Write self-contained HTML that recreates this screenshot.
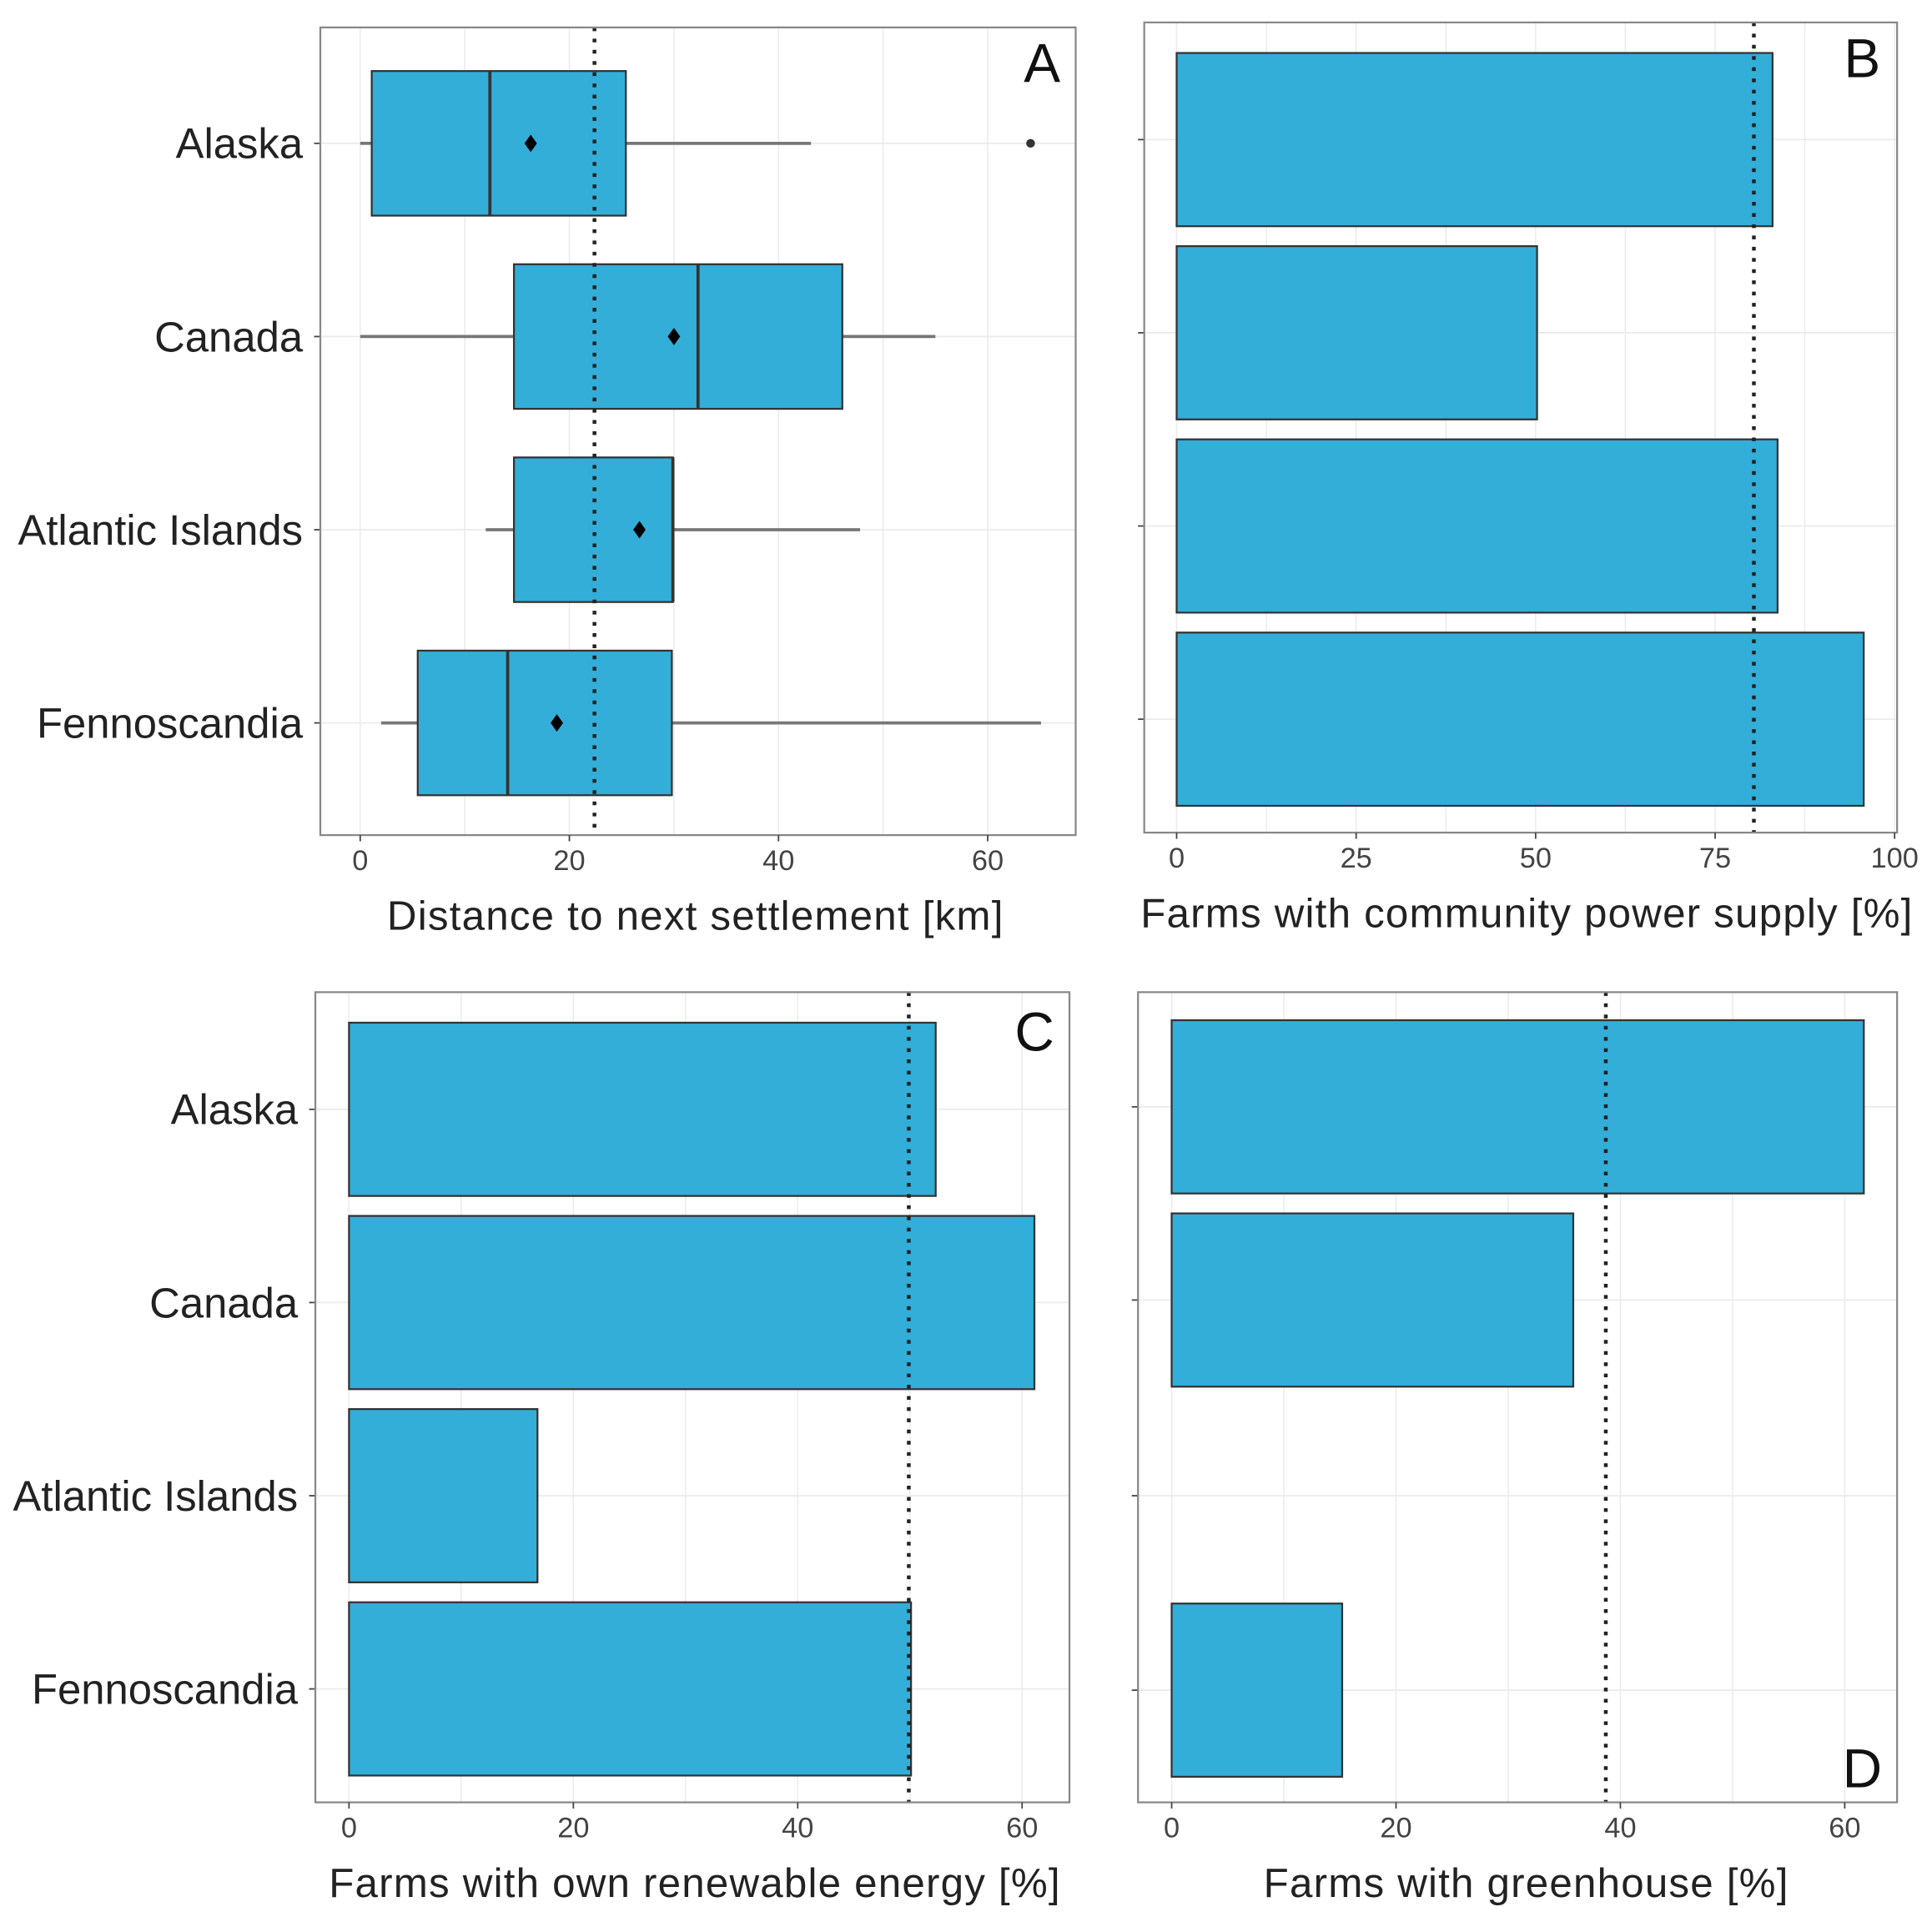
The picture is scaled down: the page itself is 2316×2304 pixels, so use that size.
<!DOCTYPE html>
<html><head><meta charset="utf-8"><style>
html,body{margin:0;padding:0;background:#fff;}
svg{display:block;font-family:"Liberation Sans",sans-serif;}
</style></head><body>
<svg id="fig" width="2316" height="2304" viewBox="0 0 1550 1542" preserveAspectRatio="none" xmlns="http://www.w3.org/2000/svg"></svg>
<script>
const categories = ["Alaska","Canada","Atlantic Islands","Fennoscandia"];
// Panel A box stats
const boxLow = [0, 0, 12, 2];
const boxQ1 = [1.1, 14.7, 14.7, 5.5];
const boxMedian = [12.4, 32.3, 29.9, 14.1];
const boxQ3 = [25.4, 46.1, 29.9, 29.8];
const boxHigh = [43.1, 55, 47.8, 65.1];
const boxMean = [16.3, 30, 26.7, 18.8];
const boxOutliers = [[64.1], [], [], []];
const refA = 22.4;
const ticksA = [0, 20, 40, 60];
// Panel B
const valuesB = [83, 50.2, 83.7, 95.7];
const refB = 80.4;
const ticksB = [0, 25, 50, 75, 100];
// Panel C
const valuesC = [52.3, 61.1, 16.8, 50.1];
const refC = 49.9;
const ticksC = [0, 20, 40, 60];
// Panel D
const valuesD = [61.7, 35.8, 0, 15.2];
const refD = 38.7;
const ticksD = [0, 20, 40, 60];

const NS = "http://www.w3.org/2000/svg";
const svg = document.getElementById("fig");
function mk(tag, attrs, parent, text) {
  const e = document.createElementNS(NS, tag);
  for (const k in attrs) e.setAttribute(k, attrs[k]);
  if (text !== undefined) e.textContent = text;
  (parent || svg).appendChild(e);
  return e;
}
const FILL = "#33AED8", STROKE = "#333";

function panel(cfg) {
  const g = mk("g", {});
  
  
  const sx = v => cfg.x0 + (v - cfg.dmin) * cfg.k;
  const cy = i => cfg.catY[i];
  const step = cfg.ticks[1] - cfg.ticks[0];
  for (let v = cfg.ticks[0] - step / 2; v <= cfg.ticks[cfg.ticks.length - 1] + step; v += step / 2) {
    const x = sx(v);
    if (x <= cfg.L || x >= cfg.R) continue;
    const gl = mk("line", {x1: x, x2: x, y1: cfg.T, y2: cfg.B, stroke: "#ebebeb", "stroke-width": 1}, g);
    
    
  }
  categories.forEach((c, i) => {
    const gl = mk("line", {x1: cfg.L, x2: cfg.R, y1: cy(i), y2: cy(i), stroke: "#ebebeb", "stroke-width": 1.2}, g);
    
    
    if (cfg.showCats) {
      const t = mk("text", {x: cfg.L - 14, y: cy(i) + 12, "text-anchor": "end", "font-size": 34, fill: "#222"}, g, c);
      
      
    }
    const tk = mk("line", {x1: cfg.L - 5, x2: cfg.L, y1: cy(i), y2: cy(i), stroke: "#444", "stroke-width": 1.2}, g);
    
    
  });
  cfg.draw(g, sx, cy);
  const rl = mk("line", {x1: sx(cfg.ref), x2: sx(cfg.ref), y1: cfg.T, y2: cfg.B, stroke: "#222", "stroke-width": 3, "stroke-dasharray": "3 6"}, g);
  
  
  const fr = mk("rect", {x: cfg.L, y: cfg.T, width: cfg.R - cfg.L, height: cfg.B - cfg.T, fill: "none", stroke: "#888", "stroke-width": 1.5}, g);
  
  
  cfg.ticks.forEach(v => {
    const tk = mk("line", {x1: sx(v), x2: sx(v), y1: cfg.B, y2: cfg.B + 5, stroke: "#444", "stroke-width": 1.2}, g);
    
    
    const t = mk("text", {x: sx(v), y: cfg.B + 28, "text-anchor": "middle", "font-size": 23, fill: "#444"}, g, String(v));
    
    
  });
  const at = mk("text", {x: (cfg.L + cfg.R) / 2 + cfg.titleDx, y: cfg.B + 76, "text-anchor": "middle", "font-size": 33, "letter-spacing": 0.8, fill: "#222"}, g, cfg.title);
  
  
  const lt = mk("text", {x: cfg.letterX, y: cfg.letterY, "text-anchor": "middle", "font-size": 44, fill: "#111"}, g, cfg.letter);
  
  
}

function bars(values, half) {
  return (g, sx, cy) => values.forEach((v, i) => {
    if (v <= 0) return;
    const r = mk("rect", {x: sx(0), y: cy(i) - half, width: sx(v) - sx(0), height: half * 2, fill: FILL, stroke: STROKE, "stroke-width": 1.5}, g);
    
    
  });
}

panel({name: "panel-a", L: 257, R: 863, T: 22, B: 670, x0: 289, dmin: 0, k: 8.39,
  catY: [115, 270, 425, 580], showCats: true, ticks: ticksA, ref: refA,
  title: "Distance to next settlement [km]", titleDx: -2, letter: "A", letterX: 836, letterY: 66,
  draw: (g, sx, cy) => categories.forEach((c, i) => {
    const y = cy(i), h = 58;
    const w1 = mk("line", {x1: sx(boxLow[i]), x2: sx(boxQ1[i]), y1: y, y2: y, stroke: "#777", "stroke-width": 2.5}, g);
    
    
    const w2 = mk("line", {x1: sx(boxQ3[i]), x2: sx(boxHigh[i]), y1: y, y2: y, stroke: "#777", "stroke-width": 2.5}, g);
    
    
    const b = mk("rect", {x: sx(boxQ1[i]), y: y - h, width: sx(boxQ3[i]) - sx(boxQ1[i]), height: 2 * h, fill: FILL, stroke: STROKE, "stroke-width": 1.5}, g);
    
    
    const m = mk("line", {x1: sx(boxMedian[i]), x2: sx(boxMedian[i]), y1: y - h, y2: y + h, stroke: STROKE, "stroke-width": 2.5}, g);
    
    
    const mx = sx(boxMean[i]);
    const d = mk("polygon", {points: `${mx},${y-7} ${mx+5},${y} ${mx},${y+7} ${mx-5},${y}`, fill: "#000"}, g);
    
    
    boxOutliers[i].forEach(o => {
      const p = mk("circle", {cx: sx(o), cy: y, r: 3.5, fill: "#333"}, g);
      
      
    });
  })
});
panel({name: "panel-b", L: 918, R: 1522, T: 18, B: 668, x0: 944, dmin: 0, k: 5.76,
  catY: [112, 267, 422, 577], showCats: false, ticks: ticksB, ref: refB,
  title: "Farms with community power supply [%]", titleDx: 5, letter: "B", letterX: 1494, letterY: 62,
  draw: bars(valuesB, 69.5)
});
panel({name: "panel-c", L: 253, R: 858, T: 796, B: 1446, x0: 280, dmin: 0, k: 9,
  catY: [890, 1045, 1200, 1355], showCats: true, ticks: ticksC, ref: refC,
  title: "Farms with own renewable energy [%]", titleDx: 2, letter: "C", letterX: 830, letterY: 843,
  draw: bars(valuesC, 69.5)
});
panel({name: "panel-d", L: 913, R: 1522, T: 796, B: 1446, x0: 940, dmin: 0, k: 9,
  catY: [888, 1043, 1200, 1356], showCats: false, ticks: ticksD, ref: refD,
  title: "Farms with greenhouse [%]", titleDx: 7, letter: "D", letterX: 1494, letterY: 1434,
  draw: bars(valuesD, 69.5)
});
</script>
</body></html>
